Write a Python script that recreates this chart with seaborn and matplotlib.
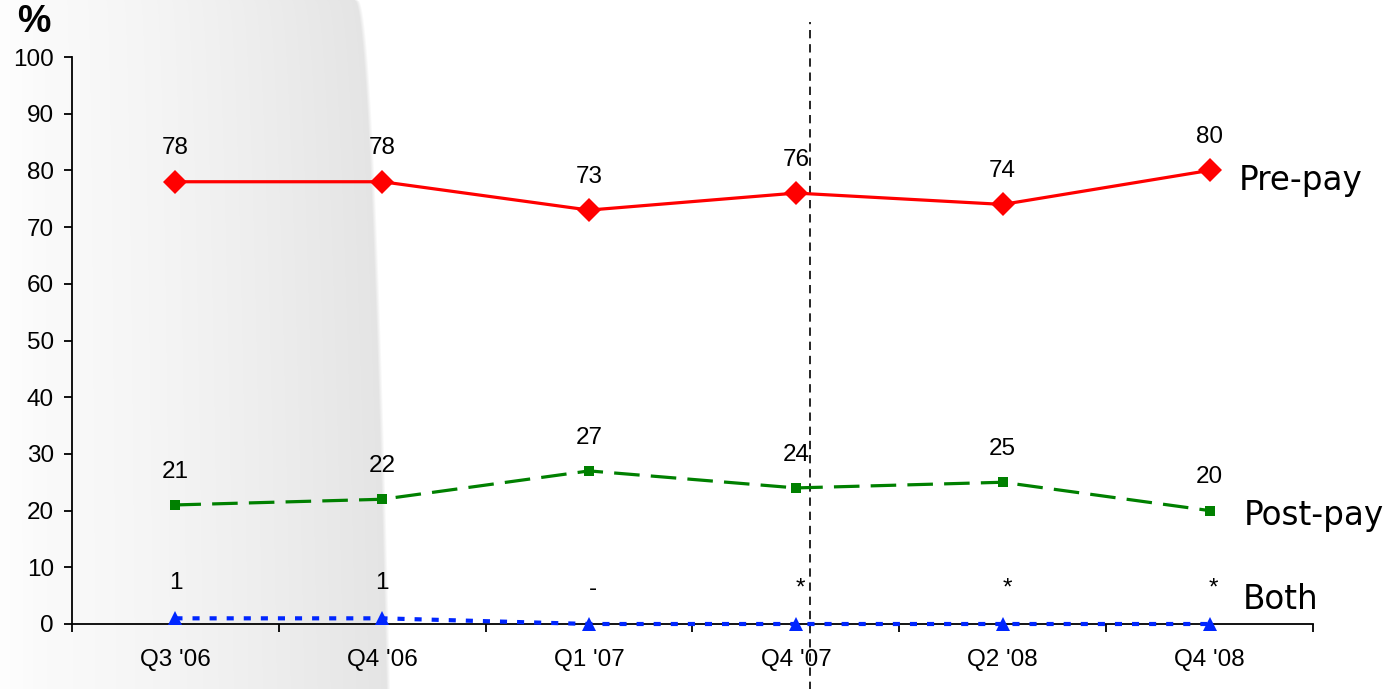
import numpy as np
import pandas as pd
import matplotlib
matplotlib.use("Agg")
import matplotlib.pyplot as plt
import matplotlib.transforms as mtransforms
import seaborn as sns

# ---- data -------------------------------------------------------------
quarters = ["Q3 '06", "Q4 '06", "Q1 '07", "Q4 '07", "Q2 '08", "Q4 '08"]
prepay = [78, 78, 73, 76, 74, 80]
postpay = [21, 22, 27, 24, 25, 20]
both = [1, 1, 0, 0, 0, 0]
both_labels = ["1", "1", "-", "*", "*", "*"]
series_names = ["Pre-pay", "Post-pay", "Both"]

# ---- figure -----------------------------------------------------------
W, H, DPI = 1386, 689, 100
sns.set_theme(style="white")
plt.rcParams["font.family"] = ["Liberation Sans", "DejaVu Sans"]
for key in ["text.color", "axes.labelcolor", "xtick.color", "ytick.color"]:
    plt.rcParams[key] = "black"

fig = plt.figure(figsize=(W / DPI, H / DPI), dpi=DPI, facecolor="white")

# soft grey shaded panel on the left of the slide
yy, xx = np.mgrid[0:H, 0:W]
edge = 358 + 32 * np.sqrt(yy / H)
shade = 0.985 - 0.09 * np.clip(xx / edge, 0, 1) ** 1.4
soft = np.clip((edge - xx) / 4.0, 0, 1)
val = 1.0 - (1.0 - shade) * soft
left_fade = np.clip(xx / 40.0, 0, 1)
val = 1.0 - (1.0 - val) * (0.35 + 0.65 * left_fade)
img = np.dstack([val, val, val])
fig.figimage(img, xo=0, yo=0, origin="upper", zorder=-5)

ax = fig.add_axes([72 / W, (H - 624) / H, (1313 - 72) / W, (624 - 57) / H])
ax.set_facecolor("none")
ax.patch.set_alpha(0)

pos = np.arange(len(quarters))
df = pd.DataFrame({"pos": pos, "Pre-pay": prepay, "Post-pay": postpay, "Both": both})

sns.lineplot(data=df, x="pos", y="Pre-pay", ax=ax, color="#ff0000", lw=2.3,
             marker="D", markersize=12, markeredgewidth=0, zorder=4)
sns.lineplot(data=df, x="pos", y="Post-pay", ax=ax, color="#008000", lw=2.3,
             marker="s", markersize=7.5, markeredgewidth=0, zorder=4)
ax.lines[-1].set_dashes((8, 3.5))
sns.lineplot(data=df, x="pos", y="Both", ax=ax, color="#0026ff", lw=3.0,
             marker="^", markersize=10, markeredgewidth=0, zorder=4)
ax.lines[-1].set_dashes((1.7, 2.4))
for ln in ax.lines:
    ln.set_clip_on(False)

# value labels above each point
lab_kw = dict(textcoords="offset points", ha="center", va="center",
              fontsize=17.5, color="black", zorder=5)
for x, v in zip(pos, prepay):
    ax.annotate(str(v), (x, v), xytext=(0, 24), **lab_kw)
for x, v in zip(pos, postpay):
    ax.annotate(str(v), (x, v), xytext=(0, 24), **lab_kw)
for x, v, t in zip(pos, both, both_labels):
    dx = 3 if t in ("*", "-") else 0
    ax.annotate(t, (x, v), xytext=(dx, 25.5), **lab_kw)

# series names at the right end
name_kw = dict(fontsize=23.5, family=["DejaVu Sans"], va="center", ha="left",
               clip_on=False, color="black")
ax.text(5.14, 78.3, series_names[0], **name_kw)
ax.text(5.165, 19.2, series_names[1], **name_kw)
ax.text(5.16, 4.3, series_names[2], **name_kw)

# vertical dashed divider
trans = mtransforms.blended_transform_factory(ax.transData, ax.transAxes)
ax.plot([3.07, 3.07], [-0.12, 1.062], transform=trans, color="black",
        lw=1.2, dashes=(5, 3.5), clip_on=False, zorder=3)

# axes styling
ax.set_xlim(-0.5, 5.5)
ax.set_ylim(0, 100)
ax.set_yticks(np.arange(0, 101, 10))
ax.set_xticks(pos)
ax.set_xticklabels(quarters)
ax.set_xticks(np.arange(-0.5, 5.6, 1.0), minor=True)
ax.set_xlabel("")
ax.set_ylabel("")
for s in ["top", "right"]:
    ax.spines[s].set_visible(False)
for s in ["left", "bottom"]:
    ax.spines[s].set_color("black")
    ax.spines[s].set_linewidth(1.3)
    ax.spines[s].set_zorder(2)
ax.tick_params(axis="y", which="major", direction="out", length=6, width=1.3,
               color="black", pad=7, labelsize=17.5, left=True)
ax.tick_params(axis="x", which="major", length=0, pad=18, labelsize=17.5)
ax.tick_params(axis="x", which="minor", direction="out", length=6, width=1.3,
               color="black", bottom=True)
ax.grid(False)

fig.text(17 / W, 1 - 22 / H, "%", fontsize=27, fontweight="bold",
         ha="left", va="center", color="black")

fig.savefig("out.png", dpi=DPI, facecolor="white")
